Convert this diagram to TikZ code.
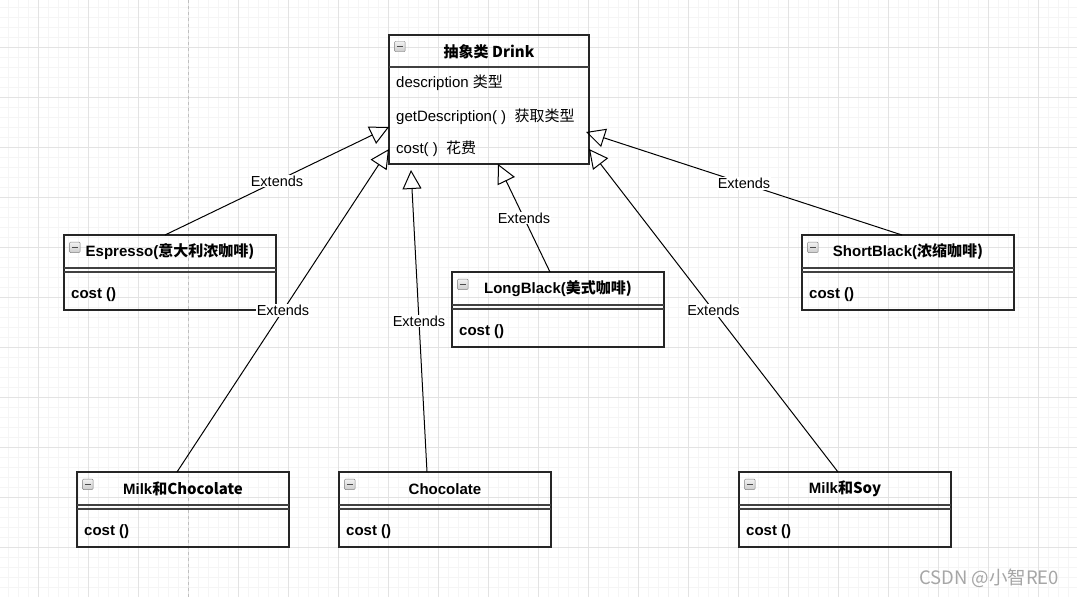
\documentclass[tikz,border=0pt]{standalone}
\usepackage{fontspec}
\setmainfont{Liberation Sans}
\newfontfamily\cjk{Noto Sans CJK SC}
\usetikzlibrary{arrows.meta}

% one class box: name, x, y, title, method
\newcommand{\umlclass}[5]{%
  \node[cbox] (#1) at (#2,#3) {};
  \draw[cline] ([yshift=-33pt]#1.north west) -- ([yshift=-33pt]#1.north east)
               ([yshift=-37pt]#1.north west) -- ([yshift=-37pt]#1.north east);
  \node[cicon] (#1i) at ([xshift=10.8pt,yshift=-12.3pt]#1.north west) {};
  \draw[gray!60!black,line width=1.2pt] ([xshift=-3pt]#1i.center) -- ([xshift=3pt]#1i.center);
  \node[ctitle] (#1t) at ([yshift=-17pt]#1.north) {#4};
  \node[ctext,anchor=west] (#1m) at ([xshift=7pt,yshift=-60pt]#1.north west) {\bfseries #5};
}

\begin{document}
\begin{tikzpicture}[x=1pt,y=-1pt,
  minor/.style={black!4,line width=0.8pt},
  major/.style={black!11,line width=0.8pt},
  cbox/.style={draw=black!85,line width=1.2pt,anchor=north west,minimum width=212pt,
    minimum height=75pt,inner sep=0pt,outer sep=0pt},
  cline/.style={black!75,line width=1.2pt},
  cicon/.style={draw=gray,top color=gray!10,bottom color=gray!40,rounded corners=1pt,
    minimum size=10.5pt,inner sep=0pt},
  ctitle/.style={font=\fontsize{15}{18}\selectfont\bfseries,inner sep=0pt},
  ctext/.style={font=\fontsize{15}{18}\selectfont,inner sep=0pt},
  ext/.style={-{Triangle[open,length=19pt,width=19pt]},line width=1pt,black},
  lbl/.style={fill=white,font=\fontsize{14.5}{17}\selectfont,inner sep=1pt}]

\useasboundingbox (0,0) rectangle (1077,597);
\fill[white] (0,0) rectangle (1077,597);
\foreach \x in {8,18,...,1077} \draw[minor] (\x,0) -- (\x,597);
\foreach \y in {7,17,...,597} \draw[minor] (0,\y) -- (1077,\y);
\foreach \x in {38,88,...,1077} \draw[major] (\x,0) -- (\x,597);
\foreach \y in {47,97,...,597} \draw[major] (0,\y) -- (1077,\y);
\draw[black!25,dashed,line width=1pt] (188,0) -- (188,597);

% abstract class
\node[cbox,minimum width=200pt,minimum height=129pt] (drink) at (389,35) {};
\draw[cline] ([yshift=-32pt]drink.north west) -- ([yshift=-32pt]drink.north east);
\node[cicon] (drinki) at ([xshift=10.8pt,yshift=-11.5pt]drink.north west) {};
\draw[gray!60!black,line width=1.2pt] ([xshift=-3pt]drinki.center) -- ([xshift=3pt]drinki.center);
\node[ctitle] (drinkt) at ([yshift=-17pt]drink.north) {\cjk{抽象类} Drink};
\node[ctext,anchor=west] (d1) at ([xshift=7pt,yshift=-48pt]drink.north west) {description \cjk{类型}};
\node[ctext,anchor=west] (d2) at ([xshift=7pt,yshift=-82pt]drink.north west) {getDescription( )\ \ \cjk{获取类型}};
\node[ctext,anchor=west] (d3) at ([xshift=7pt,yshift=-114pt]drink.north west) {cost( )\ \ \cjk{花费}};

% subclasses
\umlclass{esp}{64}{235}{Espresso(\cjk{意大利浓咖啡})}{cost ()}
\umlclass{longb}{452}{272}{LongBlack(\cjk{美式咖啡})}{cost ()}
\umlclass{shortb}{802}{235}{ShortBlack(\cjk{浓缩咖啡})}{cost ()}
\umlclass{milkc}{77}{472}{Milk\cjk{和}Chocolate}{cost ()}
\umlclass{choc}{339}{472}{Chocolate}{cost ()}
\umlclass{milks}{739}{472}{Milk\cjk{和}Soy}{cost ()}

\draw ([xshift=-5pt]esp.north) edge[ext] node[lbl]{Extends} ([yshift=37pt]drink.south west)
      ([xshift=-6pt]milkc.north) edge[ext] node[lbl]{Extends} ([yshift=15pt]drink.south west)
      ([xshift=-18pt]choc.north) edge[ext] node[lbl]{Extends} ([xshift=22pt,yshift=-6pt]drink.south west)
      ([xshift=-8pt]longb.north) edge[ext] node[lbl]{Extends} ([xshift=109pt]drink.south west)
      ([xshift=-6pt]shortb.north) edge[ext] node[lbl]{Extends} ([xshift=-3pt,yshift=32pt]drink.south east)
      ([xshift=-7pt]milks.north) edge[ext] node[lbl]{Extends} ([yshift=15pt]drink.south east);

\node[font=\fontsize{18.5}{21}\selectfont,text=black!35] (mark) at (989,578) {\cjk{CSDN @小智RE0}};
\end{tikzpicture}
\end{document}
